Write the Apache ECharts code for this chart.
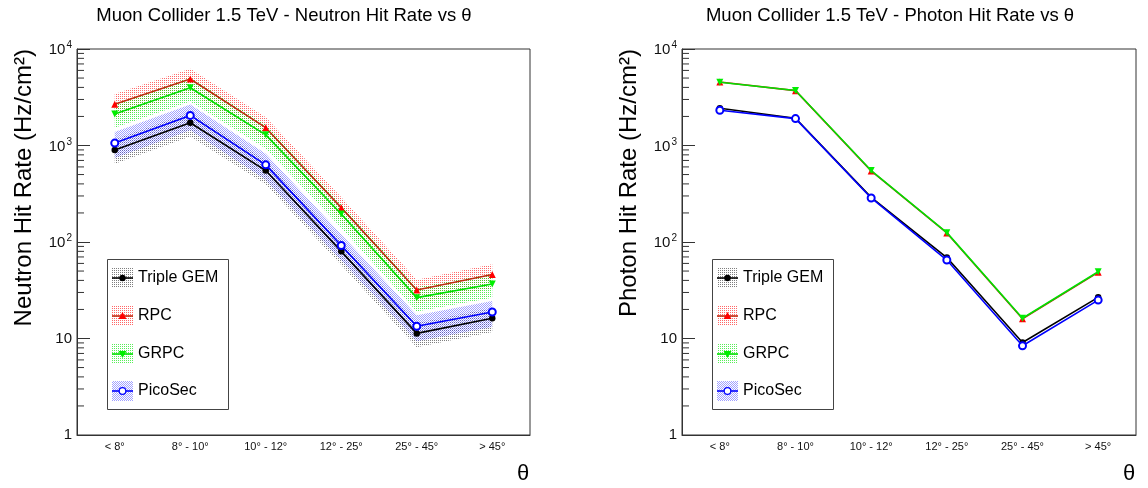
<!DOCTYPE html>
<html>
<head>
<meta charset="utf-8">
<script src="https://cdn.jsdelivr.net/npm/echarts@6/dist/echarts.min.js"></script>
<style>html,body{margin:0;padding:0;background:#fff;}#c{width:1148px;height:488px;}</style>
</head>
<body>
<div id="c"></div>
<script>
// ---- data ----
const categories = ['< 8°', '8° - 10°', '10° - 12°', '12° - 25°', '25° - 45°', '> 45°'];
const seriesNames = ['Triple GEM', 'RPC', 'GRPC', 'PicoSec'];
const yTickValues = [1, 10, 100, 1000, 10000];
const minorTickValues = [2,3,4,5,6,7,8,9,20,30,40,50,60,70,80,90,200,300,400,500,600,700,800,900,2000,3000,4000,5000,6000,7000,8000,9000];

// Neutron hit rate (Hz/cm^2)
const neutronTripleGEM = [900, 1720, 550, 80, 11.3, 16.2];
const neutronRPC       = [2670, 4890, 1530, 227, 31.8, 46];
const neutronGRPC      = [2120, 3970, 1290, 195, 26.5, 36.7];
const neutronPicoSec   = [1060, 2050, 630, 92, 13.4, 18.8];
// relative uncertainty of the neutron bands
const neutronErrTripleGEM = [0.28, 0.28, 0.28, 0.28, 0.28, 0.28];
const neutronErrRPC       = [0.28, 0.28, 0.28, 0.28, 0.28, 0.28];
const neutronErrGRPC      = [0.28, 0.28, 0.28, 0.28, 0.28, 0.28];
const neutronErrPicoSec   = [0.30, 0.30, 0.30, 0.30, 0.30, 0.30];

// Photon hit rate (Hz/cm^2)
const photonTripleGEM = [2430, 1915, 290, 69, 9.1, 26.7];
const photonRPC       = [4550, 3700, 545, 124, 16.0, 48.5];
const photonGRPC      = [4520, 3720, 550, 125, 16.2, 49.2];
const photonPicoSec   = [2320, 1900, 286, 65, 8.4, 25];

// ---- styles ----
const FONT = '"Liberation Sans", Arial, Helvetica, sans-serif';
const colors = ['#000000', '#ff0000', '#00ee00', '#0000ff'];
const lineColors = ['#000000', '#c02a10', '#00e000', '#0000ff'];
const symbols = ['circle', 'triangle', 'triangle', 'emptyCircle'];
const symbolRot = [0, 0, 180, 0];
const symbolSizes = [6.5, 7, 7, 7];

function pattern(rgba, full) {
  const c = document.createElement('canvas');
  c.width = 2; c.height = 2;
  const ctx = c.getContext('2d');
  ctx.fillStyle = rgba;
  ctx.fillRect(0, 0, 1, 1);
  if (full) ctx.fillRect(1, 1, 1, 1);
  return { image: c, repeat: 'repeat' };
}
const bandFills = [
  pattern('rgba(40,40,40,0.6)', false),
  pattern('rgba(255,40,40,0.7)', false),
  pattern('rgba(0,230,0,0.65)', false),
  pattern('rgba(70,70,255,0.5)', true)
];

const grids = [
  { left: 77, top: 49, width: 453, height: 386 },
  { left: 682, top: 49, width: 454, height: 386 }
];

function xAxis(gi) {
  return {
    type: 'category', gridIndex: gi, data: categories, boundaryGap: true,
    axisLine: { lineStyle: { color: '#333', width: 1 } },
    axisTick: { alignWithLabel: true, inside: true, length: 11, lineStyle: { color: '#333' } },
    axisLabel: { fontSize: 11, color: '#111', fontFamily: FONT, margin: 6 },
    splitLine: { show: false }
  };
}
function yAxis(gi) {
  return {
    type: 'log', logBase: 10, gridIndex: gi, min: 1, max: 10000, splitNumber: 4,
    axisLine: { show: true, lineStyle: { color: '#333', width: 1 } },
    axisTick: { show: true, inside: true, length: 13, lineStyle: { color: '#333' } },
    axisLabel: {
      margin: 5, color: '#111', fontSize: 15, fontFamily: FONT,
      formatter: function (v) {
        const e = Math.round(Math.log10(v));
        if (e === 0) return '1';
        if (e === 1) return '10';
        return '{b|10}{s|' + e + '}';
      },
      rich: {
        b: { fontSize: 15, fontFamily: FONT, color: '#111', lineHeight: 17, verticalAlign: 'bottom' },
        s: { fontSize: 10, fontFamily: FONT, color: '#111', lineHeight: 17, verticalAlign: 'top', padding: [0, 0, 0, 1] }
      }
    },
    splitLine: { show: false },
    minorTick: { show: false }
  };
}

function bandSeries(gi, vals, errs, k) {
  return {
    type: 'custom', xAxisIndex: gi, yAxisIndex: gi, silent: true, z: 1 + k * 0.01,
    data: vals.map((v, i) => [i, v * (1 + errs[i]), v * (1 - errs[i])]),
    encode: { x: 0, y: [1, 2] },
    renderItem: function (params, api) {
      if (params.dataIndexInside !== 0) return null;
      const n = params.dataInsideLength;
      const up = [], lo = [];
      for (let j = 0; j < n; j++) {
        up.push(api.coord([api.value(0, j), api.value(1, j)]));
        lo.push(api.coord([api.value(0, j), api.value(2, j)]));
      }
      const pts = up.concat(lo.reverse());
      return { type: 'polygon', shape: { points: pts }, style: { fill: bandFills[k], stroke: null } };
    }
  };
}
function lineSeries(gi, vals, k) {
  return {
    name: seriesNames[k], type: 'line', xAxisIndex: gi, yAxisIndex: gi, data: vals,
    symbol: symbols[k], symbolRotate: symbolRot[k], symbolSize: symbolSizes[k], showAllSymbol: true,
    lineStyle: { color: lineColors[k], width: 1.6 },
    itemStyle: { color: colors[k], borderColor: colors[k], borderWidth: k === 3 ? 1.2 : 0 },
    z: 5 + k * 0.1, animation: false, emphasis: { disabled: true }
  };
}
function minorTickSeries(gi) {
  return {
    type: 'custom', xAxisIndex: gi, yAxisIndex: gi, silent: true, z: 10,
    data: minorTickValues.map(v => [0, v]),
    encode: { x: 0, y: 1 },
    renderItem: function (params, api) {
      const y = api.coord([0, api.value(1)])[1];
      const x = params.coordSys.x;
      return { type: 'line', shape: { x1: x, y1: y, x2: x + 7, y2: y }, style: { stroke: '#333', lineWidth: 1 } };
    }
  };
}

function legendGraphics(x0) {
  const els = [];
  const top = 259, h = 150, w = 121;
  els.push({ type: 'rect', shape: { x: x0 + 0.5, y: top + 0.5, width: w, height: h }, style: { fill: '#fff', stroke: '#444', lineWidth: 1 }, z: 50 });
  const ys = [278, 316, 354, 391];
  for (let k = 0; k < 4; k++) {
    const yc = ys[k];
    els.push({ type: 'rect', shape: { x: x0 + 5, y: yc - 10, width: 21, height: 20 }, style: { fill: bandFills[k] }, z: 51 });
    els.push({ type: 'line', shape: { x1: x0 + 5, y1: yc, x2: x0 + 26, y2: yc }, style: { stroke: lineColors[k], lineWidth: 1.6 }, z: 52 });
    let sym;
    if (k === 0) sym = { type: 'circle', shape: { cx: x0 + 15.5, cy: yc, r: 3.2 }, style: { fill: '#000' }, z: 53 };
    else if (k === 1) sym = { type: 'polygon', shape: { points: [[x0 + 15.5, yc - 4], [x0 + 19.5, yc + 3], [x0 + 11.5, yc + 3]] }, style: { fill: '#ff0000' }, z: 53 };
    else if (k === 2) sym = { type: 'polygon', shape: { points: [[x0 + 15.5, yc + 4], [x0 + 19.5, yc - 3], [x0 + 11.5, yc - 3]] }, style: { fill: '#00ee00' }, z: 53 };
    else sym = { type: 'circle', shape: { cx: x0 + 15.5, cy: yc, r: 3.3 }, style: { fill: '#fff', stroke: '#0000ff', lineWidth: 1.2 }, z: 53 };
    els.push(sym);
    els.push({ type: 'text', x: x0 + 31, y: yc, style: { text: seriesNames[k], font: '16px ' + FONT, fill: '#000', align: 'left', verticalAlign: 'middle', textAlign: 'left', textVerticalAlign: 'middle' }, z: 53 });
  }
  return els;
}

function textEl(x, y, text, size, align, rot) {
  return {
    type: 'text', x: x, y: y, rotation: rot || 0,
    style: { text: text, font: size + 'px ' + FONT, fill: '#000', align: align, verticalAlign: 'middle', textAlign: align, textVerticalAlign: 'middle' },
    z: 60
  };
}

const chart = echarts.init(document.getElementById('c'), null, { renderer: 'canvas' });
const neutron = [neutronTripleGEM, neutronRPC, neutronGRPC, neutronPicoSec];
const neutronErr = [neutronErrTripleGEM, neutronErrRPC, neutronErrGRPC, neutronErrPicoSec];
const photon = [photonTripleGEM, photonRPC, photonGRPC, photonPicoSec];

const series = [];
for (let k = 0; k < 4; k++) series.push(bandSeries(0, neutron[k], neutronErr[k], k));
for (let k = 0; k < 4; k++) series.push(lineSeries(0, neutron[k], k));
for (let k = 0; k < 4; k++) series.push(lineSeries(1, photon[k], k));
series.push(minorTickSeries(0));
series.push(minorTickSeries(1));

chart.setOption({
  animation: false,
  backgroundColor: '#fff',
  grid: grids.map(g => Object.assign({ show: true, borderColor: '#333', borderWidth: 1, backgroundColor: 'transparent' }, g)),
  xAxis: [xAxis(0), xAxis(1)],
  yAxis: [yAxis(0), yAxis(1)],
  series: series,
  graphic: [].concat(
    legendGraphics(107),
    legendGraphics(712),
    [
      textEl(284, 16, 'Muon Collider 1.5 TeV - Neutron Hit Rate vs θ', 18.5, 'center'),
      textEl(890, 16, 'Muon Collider 1.5 TeV - Photon Hit Rate vs θ', 18.5, 'center'),
      textEl(24, 49, 'Neutron Hit Rate (Hz/cm²)', 24, 'right', Math.PI / 2),
      textEl(629, 49, 'Photon Hit Rate (Hz/cm²)', 24, 'right', Math.PI / 2),
      textEl(523, 474, 'θ', 22, 'center'),
      textEl(1129, 474, 'θ', 22, 'center')
    ]
  )
});
</script>
</body>
</html>
